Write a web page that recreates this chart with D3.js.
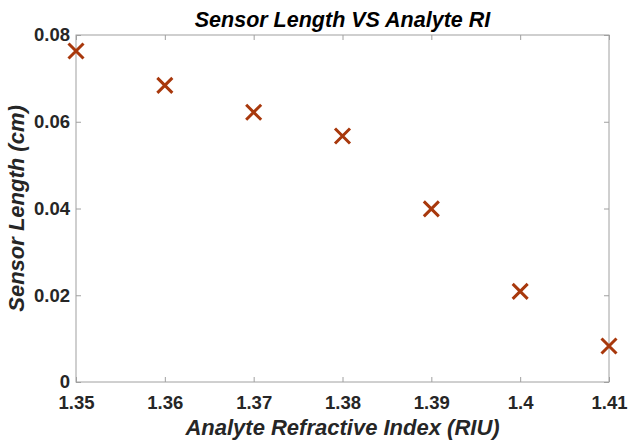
<!DOCTYPE html>
<html><head><meta charset="utf-8">
<script src="https://cdn.jsdelivr.net/npm/d3@7"></script>
<style>body{margin:0;background:#fff}svg{display:block}</style>
</head><body>
<svg id="c" width="628" height="442"></svg>
<script>
const riu = [1.35, 1.36, 1.37, 1.38, 1.39, 1.40, 1.41];
const sensorLength = [0.0763, 0.0684, 0.0622, 0.0567, 0.0399, 0.0209, 0.0083];
const xTicks = [1.35, 1.36, 1.37, 1.38, 1.39, 1.40, 1.41];
const yTicks = [0, 0.02, 0.04, 0.06, 0.08];

const svg = d3.select('#c');
const L = 76, R = 609, T = 35, B = 382;
const x = d3.scaleLinear().domain([1.35, 1.41]).range([L, R]);
const y = d3.scaleLinear().domain([0, 0.08]).range([B, T]);
const font = '"Liberation Sans", Arial, sans-serif';
const axisCol = '#a0a0a0', txt = '#262626';

svg.append('rect').attr('x', L).attr('y', T).attr('width', R - L).attr('height', B - T)
  .attr('fill', 'none').attr('stroke', axisCol).attr('stroke-width', 1);

const fmtX = d => d3.format('~g')(d);
const fmtY = d => d === 0 ? '0' : d3.format('.2f')(d);

function style(g) {
  g.select('.domain').remove();
  g.selectAll('line').attr('stroke', axisCol);
  g.selectAll('text').attr('fill', txt).style('font-family', font).style('font-size', '18.5px').style('font-weight', 'bold');
}
svg.append('g').attr('transform', `translate(0,${B})`)
  .call(d3.axisBottom(x).tickValues(xTicks).tickFormat(fmtX).tickSizeInner(-5).tickPadding(14)).call(style);
svg.append('g').attr('transform', `translate(0,${T})`)
  .call(d3.axisTop(x).tickValues(xTicks).tickFormat('').tickSizeInner(-5)).call(style);
svg.append('g').attr('transform', `translate(${L},0)`)
  .call(d3.axisLeft(y).tickValues(yTicks).tickFormat(fmtY).tickSizeInner(-5).tickPadding(6)).call(style);
svg.append('g').attr('transform', `translate(${R},0)`)
  .call(d3.axisRight(y).tickValues(yTicks).tickFormat('').tickSizeInner(-5)).call(style);

const s = 7.5;
const pts = svg.append('g');
riu.forEach((r, i) => {
  const cx = x(r), cy = y(sensorLength[i]);
  pts.append('path').attr('d', `M${cx - s},${cy - s}L${cx + s},${cy + s}M${cx - s},${cy + s}L${cx + s},${cy - s}`)
    .attr('stroke', '#a8380c').attr('stroke-width', 3).attr('fill', 'none');
});

svg.append('text').attr('x', (L + R) / 2).attr('y', 27).attr('text-anchor', 'middle')
  .style('font-family', font).style('font-size', '21.5px').style('font-weight', 'bold').style('font-style', 'italic')
  .attr('fill', '#000').text('Sensor Length VS Analyte RI');
svg.append('text').attr('x', (L + R) / 2).attr('y', 435).attr('text-anchor', 'middle')
  .style('font-family', font).style('font-size', '22px').style('font-weight', 'bold').style('font-style', 'italic')
  .attr('fill', txt).text('Analyte Refractive Index (RIU)');
svg.append('text').attr('transform', `translate(24,${(T + B) / 2}) rotate(-90)`).attr('text-anchor', 'middle')
  .style('font-family', font).style('font-size', '22px').style('font-weight', 'bold').style('font-style', 'italic')
  .attr('fill', txt).text('Sensor Length (cm)');
</script>
</body></html>
